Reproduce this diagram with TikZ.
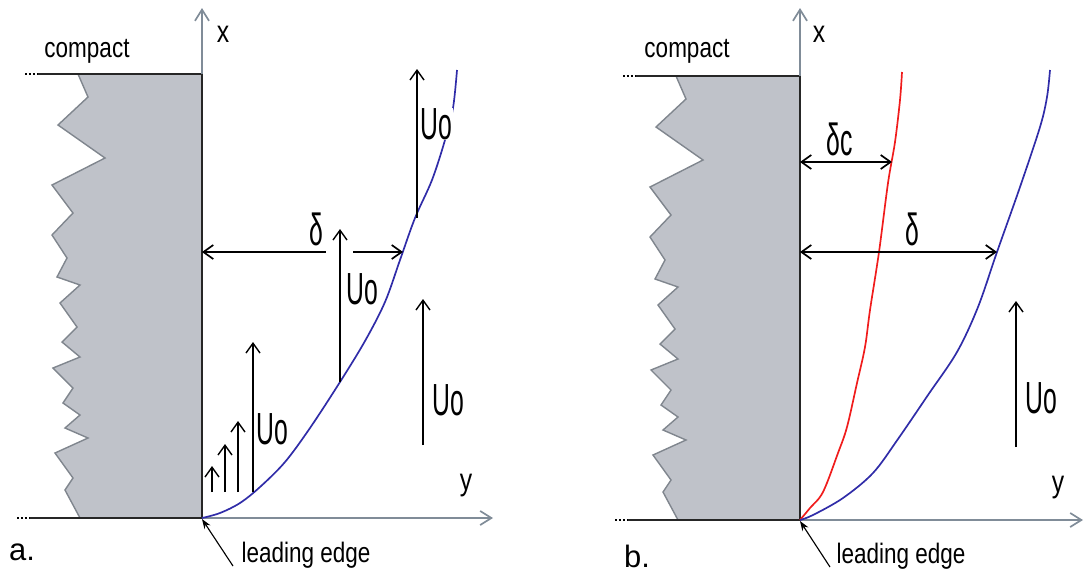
\documentclass[tikz,border=0pt]{standalone}
\usepackage{fontspec}
\setmainfont{Liberation Sans}
\newfontfamily\labelfont[FakeStretch=0.8]{Liberation Sans}
\newfontfamily\speedfont[FakeStretch=0.55]{Liberation Sans}
\usetikzlibrary{arrows.meta,positioning}
\definecolor{wallgrey}{RGB}{191,194,201}
\definecolor{edgegrey}{RGB}{128,134,142}
\definecolor{axisgrey}{RGB}{128,140,152}
\definecolor{layerblue}{RGB}{48,44,168}
\definecolor{layerred}{RGB}{240,28,28}

\begin{document}
\begin{tikzpicture}[x=0.025cm,y=-0.025cm,
  wall/.style={line width=1.5pt,black!85},
  axis/.style={-{Straight Barb[length=8pt,width=10pt]},line width=1.2pt,axisgrey},
  speed/.style={-{Straight Barb[length=7pt,width=10pt]},line width=1pt},
  span/.style={{Straight Barb[length=7pt,width=10pt]}-{Straight Barb[length=7pt,width=10pt]},line width=1.2pt},
  pointer/.style={-{Stealth[length=7pt,width=5pt]},line width=0.8pt},
  layer/.style={line width=1.2pt,layerblue},
  txt/.style={font=\labelfont\fontsize{20}{24}\selectfont,inner sep=0pt,anchor=base},
  axlabel/.style={font=\labelfont\fontsize{22}{26}\selectfont,inner sep=0pt,anchor=base},
  uo/.style={font=\speedfont\fontsize{32}{36}\selectfont,inner sep=1pt},
  tag/.style={font=\fontsize{22}{26}\selectfont,inner sep=0pt,anchor=base},
  compact wall/.pic={
    \fill[wallgrey] (202,74) -- (78,74) -- (88,97) -- (58,125) -- (105,158) -- (52,185) -- (73,213)
      -- (52,235) -- (67,258) -- (57,277) -- (80,285) -- (60,303) -- (77,327) -- (62,342) -- (80,357)
      -- (53,368) -- (73,388) -- (63,403) -- (80,415) -- (65,428) -- (88,438) -- (55,453) -- (73,478)
      -- (65,490) -- (80,518) -- (202,518) -- cycle;
    \draw[edgegrey,line width=1pt] (78,74) -- (88,97) -- (58,125) -- (105,158) -- (52,185) -- (73,213)
      -- (52,235) -- (67,258) -- (57,277) -- (80,285) -- (60,303) -- (77,327) -- (62,342) -- (80,357)
      -- (53,368) -- (73,388) -- (63,403) -- (80,415) -- (65,428) -- (88,438) -- (55,453) -- (73,478)
      -- (65,490) -- (80,518);
    \draw[wall] (38,74) -- (202,74) -- (202,518) -- (30,518);
    \draw[line width=1pt,dash pattern=on 1.2pt off 1.6pt] (25,74) -- (37,74);
    \draw[line width=1pt,dash pattern=on 1.2pt off 1.6pt] (17,518) -- (29,518);
  }]
\useasboundingbox (0,0) rectangle (1085,574);

% panel a: developing layer
\pic at (0,0) {compact wall};
\coordinate (edgea) at (202,519);
\draw[axis] (202,74) -- (202,8);
\draw[axis] (202,518) -- (493,518);
\node[axlabel] (xa) at (223,42) {x};
\node[axlabel] (ya) at (466,490) {y};
\node[txt] (compacta) at (87,57) {compact};
\draw[layer] plot[smooth,tension=0.55] coordinates {(202,518) (220,513) (240,503) (260,487) (285,462)
  (310,428) (340,382) (365,341) (385,302) (400,260) (415,218) (432,180) (445,140) (453,108) (457,70)};
\draw[speed] (212,492) -- (212,466);
\draw[speed] (225,492) -- (225,444);
\draw[speed] (238,492) -- (238,421);
\draw[speed] (253,492) -- (253,342);
\draw[speed] (340,382) -- (340,229);
\draw[speed] (417,218) -- (417,69);
\draw[speed] (423,445) -- (423,299);
\node[uo] (uoa1) at (272,429) {Uo};
\node[uo] (uoa2) at (362,289) {Uo};
\node[uo,fill=white,inner sep=0.5pt] (uoa3) at (436,124) {Uo};
\node[uo] (uoa4) at (448,400) {Uo};
\draw[{Straight Barb[length=7pt,width=10pt]}-,line width=1.2pt] (202,252) -- (326,252);
\draw[-{Straight Barb[length=7pt,width=10pt]},line width=1.2pt] (353,252) -- (403,252);
\node[uo] (deltaa) at (316,229) {δ};
\node[txt] (edgetexta) at (306,562) {leading edge};
\draw[pointer] (233,566) -- (edgea);
\node[tag] (taga) at (22,560) {a.};

% panel b: two layers
\begin{scope}[shift={(598,2)}]
\pic at (0,0) {compact wall};
\coordinate (edgeb) at (202,519);
\draw[axis] (202,74) -- (202,6);
\draw[axis] (202,518) -- (485,518);
\node[axlabel] (xb) at (221,40) {x};
\node[axlabel] (yb) at (460,490) {y};
\node[txt] (compactb) at (89,55) {compact};
\draw[line width=1.2pt,layerred] plot[smooth,tension=0.55] coordinates {(202,518) (212,506) (225,490)
  (240,451) (249,425) (259,381) (267,345) (272,308) (281,250) (290,181) (297,140) (302,98) (304,70)};
\draw[layer] plot[smooth,tension=0.55] coordinates {(202,518) (215,513) (245,496) (275,471) (300,437)
  (330,393) (359,350) (380,305) (399,250) (422,185) (442,125) (449,95) (452,68)};
\draw[span] (202,160) -- (294,160);
\draw[span] (202,250) -- (399,250);
\node[uo] (deltac) at (242,137) {δc};
\node[uo] (deltab) at (314,227) {δ};
\draw[speed] (418,445) -- (418,299);
\node[uo] (uob) at (443,396) {Uo};
\node[txt] (edgetextb) at (303,561) {leading edge};
\draw[pointer] (232,565) -- (edgeb);
\node[tag] (tagb) at (39,565) {b.};
\end{scope}
\end{tikzpicture}
\end{document}
